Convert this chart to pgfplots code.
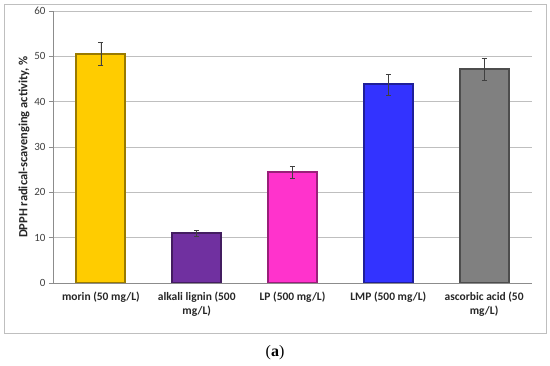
\documentclass[border=0pt]{standalone}
\usepackage{fontspec}
\setmainfont{Carlito}
\newfontfamily\capfont{Liberation Serif}
\usepackage{pgfplots}
\pgfplotsset{compat=1.18}
\definecolor{cmorin}{HTML}{FFCC00}
\definecolor{clignin}{HTML}{7030A0}
\definecolor{clp}{HTML}{FF33CC}
\definecolor{clmp}{HTML}{3333FF}
\definecolor{casc}{HTML}{808080}
\definecolor{gridc}{HTML}{BFBFBF}
\definecolor{axc}{HTML}{8C8C8C}
\begin{document}
\begin{tikzpicture}
\path[use as bounding box] (0pt,0pt) rectangle (550pt,366pt);
\draw[gridc, line width=0.8pt] (4pt,33pt) rectangle (546pt,362pt);
\node[font=\fontsize{16}{18}\selectfont\capfont] at (275pt,13.5pt) {(\textbf{a})};
\begin{axis}[
  at={(53pt,83pt)}, anchor=south west,
  scale only axis, width=479pt, height=272pt,
  xmin=-0.5, xmax=4.5, ymin=0, ymax=60,
  ytick={0,10,...,60},
  ymajorgrids, grid style={gridc, line width=0.8pt},
  axis x line*=bottom, axis y line*=left,
  axis line style={axc, line width=0.8pt},
  tick style={axc, line width=0.8pt},
  tick align=outside, major tick length=4pt,
  xtick={0,1,2,3,4}, xtick style={draw=none},
  xticklabels={{morin (50 mg/L)},{alkali lignin (500\\mg/L)},{LP (500 mg/L)},{LMP (500 mg/L)},{ascorbic acid (50\\mg/L)}},
  xticklabel style={font=\fontsize{11.5}{14}\selectfont\bfseries, align=center, text=black!85, anchor=north, yshift=-1pt},
  extra x ticks={-0.5,0.5,1.5,2.5,3.5,4.5},
  extra x tick labels={},
  extra x tick style={grid=none, tick style={axc, line width=0.8pt}, major tick length=4pt},
  yticklabel style={font=\fontsize{11}{13}\selectfont, text=black!75},
  /pgf/number format/assume math mode=true,
  ylabel={DPPH radical-scavenging activity, \%},
  ylabel style={font=\fontsize{12.5}{14}\selectfont\bfseries, text=black!85, yshift=-2pt},
  ybar, bar width=49pt, bar shift=0pt,
  error bars/y dir=both, error bars/y explicit,
  error bars/error bar style={black!75, line width=0.6pt},
  error bars/error mark options={rotate=90, mark size=2.5pt, black!75, line width=0.6pt},
]
\addplot[fill=cmorin, draw=cmorin!60!black, line width=2pt] coordinates {(0,50.6) +- (0,2.6)};
\addplot[fill=clignin, draw=clignin!60!black, line width=2pt] coordinates {(1,11.0) +- (0,0.6)};
\addplot[fill=clp, draw=clp!60!black, line width=2pt] coordinates {(2,24.4) +- (0,1.3)};
\addplot[fill=clmp, draw=clmp!60!black, line width=2pt] coordinates {(3,43.8) +- (0,2.3)};
\addplot[fill=casc, draw=casc!60!black, line width=2pt] coordinates {(4,47.1) +- (0,2.4)};
\end{axis}
\end{tikzpicture}
\end{document}
